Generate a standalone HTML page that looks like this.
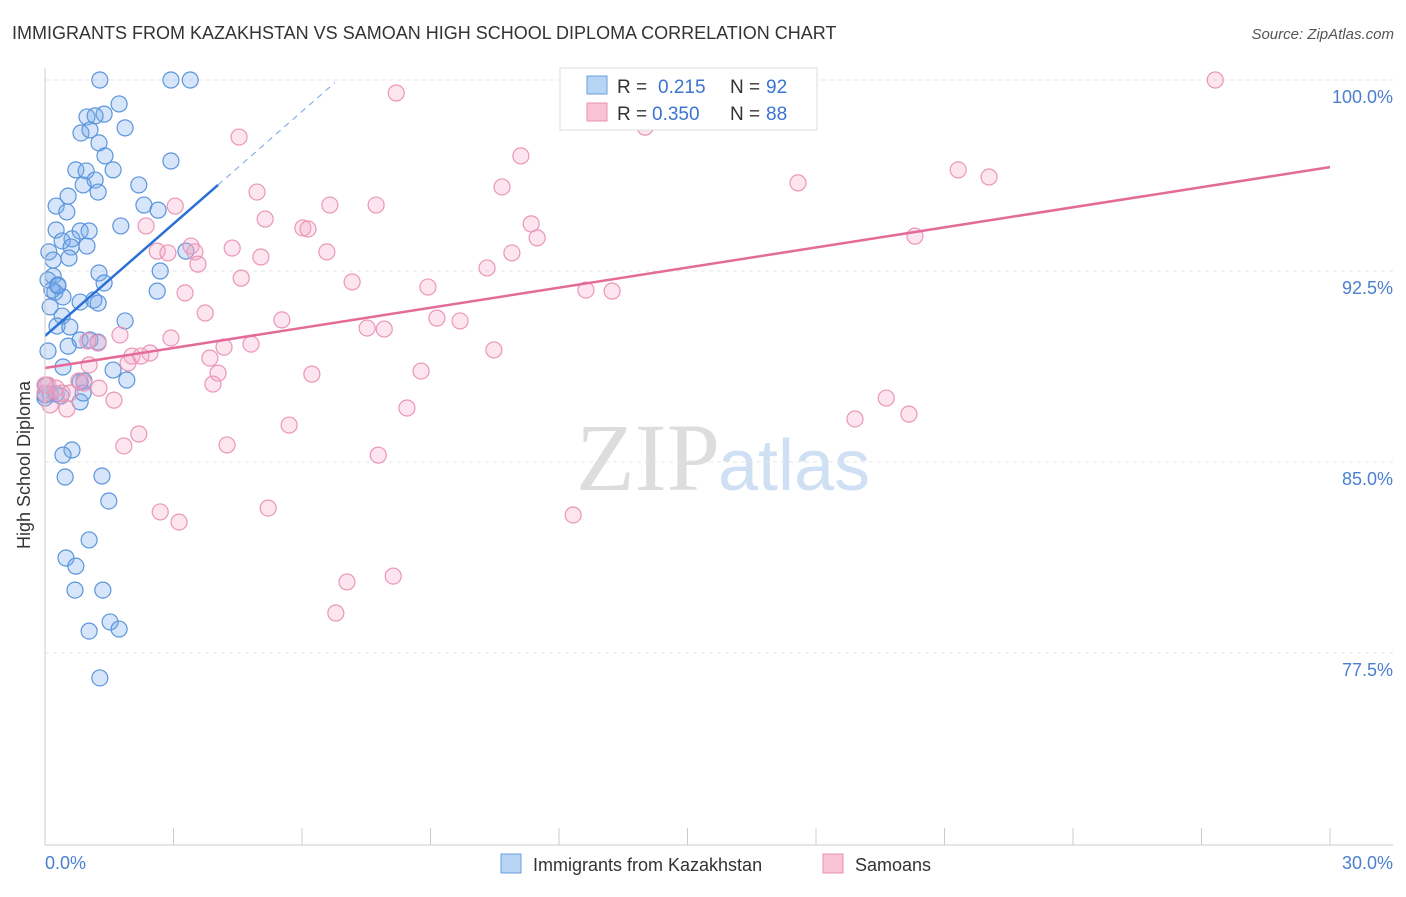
<!DOCTYPE html>
<html><head><meta charset="utf-8"><style>
body{margin:0;background:#fff;font-family:"Liberation Sans",sans-serif}
svg text{font-family:"Liberation Sans",sans-serif}
</style></head><body>
<svg id="c" width="1406" height="892">
<text x="12" y="39" font-size="18" fill="#333">IMMIGRANTS FROM KAZAKHSTAN VS SAMOAN HIGH SCHOOL DIPLOMA CORRELATION CHART</text>
<text x="1394" y="39" font-size="15" fill="#555" font-style="italic" text-anchor="end">Source: ZipAtlas.com</text>
<text x="720" y="490" font-size="96" fill="#ddd" text-anchor="end" font-family="Liberation Serif" style="font-family:'Liberation Serif',serif">ZIP</text>
<text x="718" y="490" font-size="72" fill="#cfe0f4">atlas</text>
<g id="grid"></g><g id="pts"></g><g id="lines"></g>
<line x1="45" y1="68" x2="45" y2="845" stroke="#ccc"/>
<line x1="45" y1="845" x2="1393" y2="845" stroke="#ccc"/>
<text x="20" y="455" font-size="18" fill="#333" transform="rotate(-90 30 455)" text-anchor="middle">High School Diploma</text>
<text x="45" y="869" font-size="18" fill="#4a7fd0">0.0%</text>
<text x="1393" y="869" font-size="18" fill="#4a7fd0" text-anchor="end">30.0%</text>
<g>
<rect x="560" y="68" width="257" height="62" fill="#fff" stroke="#ddd"/>
<rect x="587" y="76" width="20" height="18" fill="#b8d4f4" stroke="#6a9fe0"/>
<text x="617" y="93" font-size="19" fill="#333">R = </text><text x="658" y="93" font-size="19" fill="#3a74d0">0.215</text>
<text x="730" y="93" font-size="19" fill="#333">N = </text><text x="766" y="93" font-size="19" fill="#3a74d0">92</text>
<rect x="587" y="103" width="20" height="18" fill="#f8c4d4" stroke="#e890b0"/>
<text x="617" y="120" font-size="19" fill="#333">R = </text><text x="652" y="120" font-size="19" fill="#3a74d0">0.350</text>
<text x="730" y="120" font-size="19" fill="#333">N = </text><text x="766" y="120" font-size="19" fill="#3a74d0">88</text>
</g>
<g>
<rect x="501" y="854" width="20" height="19" fill="#b8d4f4" stroke="#6a9fe0"/>
<text x="533" y="871" font-size="18" fill="#333">Immigrants from Kazakhstan</text>
<rect x="823" y="854" width="20" height="19" fill="#f8c4d4" stroke="#e890b0"/>
<text x="855" y="871" font-size="18" fill="#333">Samoans</text>
</g>
</svg>
<script>
const yTicks=[100,92.5,85,77.5];
const yTickLabels=["100.0%","92.5%","85.0%","77.5%"];
const xTicks=[0,3,6,9,12,15,18,21,24,27,30];
const blueX=[1.28,2.94,3.39,1.73,1.38,0.98,1.17,1.87,0.84,1.05,1.26,1.40,0.72,0.96,1.59,1.17,0.89,2.19,1.24,0.54,0.26,2.31,2.64,0.51,2.94,1.77,0.26,0.82,1.03,0.63,0.40,0.98,0.61,0.09,0.56,3.29,0.19,2.69,1.26,0.19,0.07,0.30,1.38,0.23,0.42,2.62,0.82,1.14,1.24,0.12,0.40,1.87,0.28,0.58,0.82,1.05,0.54,1.24,0.07,0.42,1.59,1.91,0.02,0.82,0.12,0.37,0.82,0.63,0.42,0.47,1.33,1.49,1.03,0.49,0.72,0.70,1.35,1.52,1.03,1.73,1.28,0.16,0,0.26,0.89,0.30,0,0.91];
const blueY=[100,100,100,99.06,98.66,98.55,98.59,98.12,97.92,98.04,97.53,97.02,96.47,96.43,96.47,96.07,95.88,95.88,95.60,95.44,95.05,95.09,94.89,94.82,96.82,94.27,94.11,94.07,94.07,93.76,93.68,93.48,93.44,93.25,93.01,93.28,92.93,92.50,92.42,92.30,92.15,91.91,92.03,91.67,91.48,91.71,91.28,91.36,91.24,91.09,90.73,90.54,90.34,90.30,89.79,89.79,89.55,89.71,89.36,88.73,88.61,88.22,88.02,88.14,87.67,87.59,87.36,85.47,85.27,84.41,84.45,83.47,81.94,81.23,80.91,79.97,79.97,78.72,78.36,78.44,76.52,91.75,87.51,87.67,87.71,91.95,87.63,88.18];
const pinkX=[27.32,14.97,8.20,14.01,4.53,11.11,21.32,22.04,17.58,10.67,4.95,3.04,6.65,7.73,5.14,11.35,6.02,6.14,2.36,11.49,20.31,4.37,3.41,3.50,2.62,2.87,5.04,6.58,10.90,3.57,10.32,7.17,4.58,12.63,13.24,8.94,3.27,3.74,5.53,9.15,9.69,7.52,7.92,2.94,1.75,4.18,4.81,1.24,1.00,2.45,2.03,2.24,3.85,1.94,10.48,1.03,4.04,6.23,8.78,0.79,0.91,0.07,0.26,0.40,1.26,3.92,0,0.58,1.61,8.45,19.64,20.17,18.91,0.12,0.51,5.70,2.19,1.84,4.25,7.78,2.69,3.13,5.21,12.33,7.05,8.13,6.79,0];
const pinkY=[100,100,99.49,98.15,97.76,97.02,96.47,96.19,95.96,95.80,95.60,95.05,95.09,95.09,94.54,94.35,94.19,94.15,94.27,93.80,93.87,93.40,93.48,93.25,93.28,93.21,93.05,93.25,93.21,92.77,92.62,92.07,92.22,91.75,91.71,91.87,91.64,90.85,90.58,90.65,90.54,90.26,90.22,89.87,89.99,89.51,89.63,89.67,89.75,89.28,89.16,89.16,89.08,88.89,89.40,88.81,88.49,88.45,88.57,88.18,88.10,88.02,87.90,87.71,87.90,88.06,87.71,87.71,87.43,87.12,87.51,86.88,86.69,87.24,87.08,86.45,86.10,85.63,85.67,85.27,83.04,82.64,83.19,82.92,80.29,80.52,79.07,88.02];
const blueFit=[[0,89.95],[4.04,95.88]];
const blueFitExt=[[4.04,95.88],[6.77,99.9]];
const pinkFit=[[0,88.69],[30,96.58]];
const NS="http://www.w3.org/2000/svg";
const sx=v=>45+v/30*1285;
const sy=v=>80+(100-v)/7.5*191;
function mk(tag,attrs,parent){const e=document.createElementNS(NS,tag);for(const k in attrs)e.setAttribute(k,attrs[k]);parent.appendChild(e);return e;}
const grid=document.getElementById('grid'),pts=document.getElementById('pts'),lines=document.getElementById('lines'),svg=document.getElementById('c');
yTicks.forEach((t,i)=>{
 const l=mk('line',{x1:45,x2:1393,y1:sy(t),y2:sy(t),stroke:'#e4e4e4','stroke-dasharray':'4,4'},grid);
 
 
 const tx=mk('text',{x:1393,y:sy(t)+23,'font-size':18,fill:'#4a7fd0','text-anchor':'end'},grid);
 tx.textContent=yTickLabels[i];
 
 
});
xTicks.forEach(t=>{
 const l=mk('line',{x1:sx(t),x2:sx(t),y1:828,y2:845,stroke:'#ccc'},grid);
 
 
});
blueX.forEach((x,i)=>{
 const c=mk('circle',{cx:sx(x),cy:sy(blueY[i]),r:8,fill:'rgba(120,170,235,0.3)',stroke:'#5b95dc','stroke-width':1.2},pts);
 
 
});
pinkX.forEach((x,i)=>{
 const c=mk('circle',{cx:sx(x),cy:sy(pinkY[i]),r:8,fill:'rgba(245,170,200,0.3)',stroke:'#eb96b6','stroke-width':1.2},pts);
 
 
});
const b=mk('line',{x1:sx(blueFit[0][0]),y1:sy(blueFit[0][1]),x2:sx(blueFit[1][0]),y2:sy(blueFit[1][1]),stroke:'#2a6fd6','stroke-width':2.5},lines);


const bd=mk('line',{x1:sx(blueFitExt[0][0]),y1:sy(blueFitExt[0][1]),x2:sx(blueFitExt[1][0]),y2:sy(blueFitExt[1][1]),stroke:'#8ab0e8','stroke-width':1.2,'stroke-dasharray':'6,5'},lines);


const p=mk('line',{x1:sx(pinkFit[0][0]),y1:sy(pinkFit[0][1]),x2:sx(pinkFit[1][0]),y2:sy(pinkFit[1][1]),stroke:'#e46a98','stroke-width':2.5},lines);


</script>
</body></html>
